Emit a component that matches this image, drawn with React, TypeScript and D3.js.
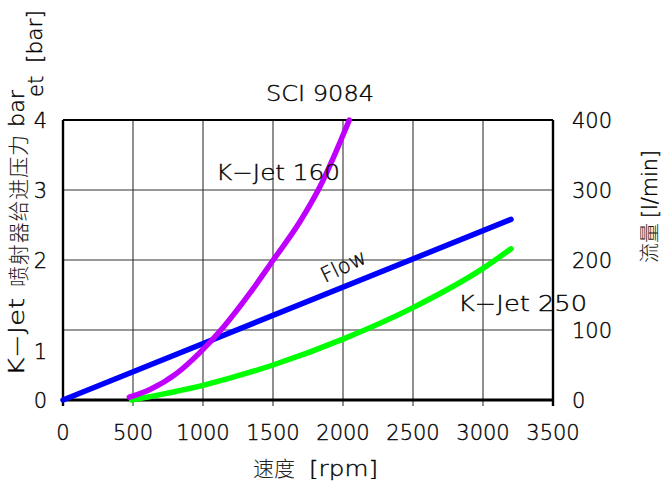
import React from "react";
import * as d3 from "d3";

const rpmTicks = [0, 500, 1000, 1500, 2000, 2500, 3000, 3500];
const pressureTickValues = [0, 0.69, 2, 3, 4];
const pressureTickLabels = ["0", "1", "2", "3", "4"];
const pressureGrid = [1, 2, 3];
const flowTicks = [0, 100, 200, 300, 400];

const flowRpm = [0, 3200];
const flowValues = [0, 258];

const kjet160Rpm = [474, 621, 812, 979, 1145, 1336, 1502, 1693, 1836, 2045];
const kjet160Values = [0.04, 0.15, 0.38, 0.68, 1.04, 1.53, 2.0, 2.55, 3.05, 4.0];

const kjet250Rpm = [490, 1000, 1500, 2000, 2500, 3000, 3200];
const kjet250Values = [0, 0.21, 0.5, 0.87, 1.32, 1.88, 2.16];

const W = 662;
const H = 486;
const L = 63, R = 553, T = 120, B = 400;

const FONT = "'DejaVu Sans', sans-serif";
const CJK = "'Noto Sans CJK SC', sans-serif";

export default function App() {
  const x = d3.scaleLinear().domain([0, 3500]).range([L, R]);
  const yP = d3.scaleLinear().domain([0, 4]).range([B, T]);
  const yF = d3.scaleLinear().domain([0, 400]).range([B, T]);

  const lineP = d3
    .line<[number, number]>()
    .x((d) => x(d[0]))
    .y((d) => yP(d[1]))
    .curve(d3.curveMonotoneX);
  const lineF = d3
    .line<[number, number]>()
    .x((d) => x(d[0]))
    .y((d) => yF(d[1]));

  const flowPts = flowRpm.map((r, i) => [r, flowValues[i]] as [number, number]);
  const k160Pts = kjet160Rpm.map((r, i) => [r, kjet160Values[i]] as [number, number]);
  const k250Pts = kjet250Rpm.map((r, i) => [r, kjet250Values[i]] as [number, number]);

  const txt = {
    fontFamily: FONT,
    fontSize: 21,
    fontWeight: 200,
    fill: "#000",
    stroke: "#000",
    strokeWidth: 0.35,
  } as const;
  const cjk = { fontFamily: CJK, fontSize: 21, fontWeight: 300, fill: "#222" } as const;
  const SG = "spacingAndGlyphs";

  return (
    <svg
      width={W}
      height={H}
      style={{ position: "absolute", left: 0, top: 0, background: "#fff" }}
    >
      <rect x={0} y={0} width={W} height={H} fill="#fff" />
      {/* grid */}
      {rpmTicks.slice(1, -1).map((t) => (
        <line key={"gx" + t} x1={x(t)} x2={x(t)} y1={T} y2={B + 6} stroke="#333" strokeWidth={1.1} />
      ))}
      {pressureGrid.map((t) => (
        <line key={"gy" + t} x1={L} x2={R} y1={yP(t)} y2={yP(t)} stroke="#333" strokeWidth={1.1} />
      ))}
      {/* frame */}
      <line x1={L} x2={R} y1={T} y2={T} stroke="#000" strokeWidth={2.2} />
      <line x1={L} x2={L} y1={T} y2={B + 6} stroke="#000" strokeWidth={2.4} />
      <line x1={R} x2={R} y1={T} y2={B + 6} stroke="#000" strokeWidth={2.4} />
      <line x1={L} x2={R} y1={B} y2={B} stroke="#000" strokeWidth={3} />

      {/* curves */}
      <path d={lineF(flowPts) || ""} fill="none" stroke="#0000ff" strokeWidth={5.5} strokeLinecap="round" />
      <path d={lineP(k250Pts) || ""} fill="none" stroke="#00ff00" strokeWidth={5.5} strokeLinecap="round" />
      <path d={lineP(k160Pts) || ""} fill="none" stroke="#c000ff" strokeWidth={5.5} strokeLinecap="round" />

      {/* x tick labels */}
      {rpmTicks.map((t) => (
        <text key={"xl" + t} x={x(t)} y={440} textAnchor="middle" {...txt}>
          {t}
        </text>
      ))}
      {/* left tick labels */}
      {pressureTickValues.map((v, i) => (
        <text key={"pl" + i} x={47} y={yP(v) + 7.5} textAnchor="end" {...txt}>
          {pressureTickLabels[i]}
        </text>
      ))}
      {/* right tick labels */}
      {flowTicks.map((v) => (
        <text key={"fl" + v} x={572} y={yF(v) + 7.5} textAnchor="start" {...txt}>
          {v}
        </text>
      ))}

      {/* title */}
      <text x={266} y={100.5} {...txt} textLength={108} lengthAdjust={SG}>
        SCI  9084
      </text>
      {/* series labels */}
      <text x={216} y={180} {...txt} textLength={124} lengthAdjust={SG}>
        K−Jet  160
      </text>
      <text x={458} y={310.5} {...txt} textLength={129} lengthAdjust={SG}>
        K−Jet  250
      </text>
      <text transform="translate(325,283) rotate(-26)" {...txt}>
        Flow
      </text>

      {/* x axis title */}
      <text x={253} y={476} style={cjk}>
        速度
      </text>
      <text x={309} y={476} {...txt} textLength={69} lengthAdjust={SG}>
        [rpm]
      </text>

      {/* left axis title */}
      <text transform="translate(24,376) rotate(-90)" {...txt} textLength={78} lengthAdjust={SG}>
        K−Jet
      </text>
      <text
        transform="translate(26,287) rotate(-90)"
        style={cjk}
        textLength={152}
        lengthAdjust="spacing"
      >
        喷射器给进压力
      </text>
      <text transform="translate(24,127) rotate(-90)" {...txt} textLength={37} lengthAdjust={SG}>
        bar
      </text>
      <text transform="translate(43,97) rotate(-90)" {...txt}>
        et
      </text>
      <text transform="translate(42,63) rotate(-90)" {...txt} textLength={53} lengthAdjust={SG}>
        [bar]
      </text>

      {/* right axis title */}
      <text transform="translate(657,263) rotate(-90)" style={{ ...cjk, fontSize: 20 }}>
        流量
      </text>
      <text transform="translate(657,218) rotate(-90)" {...txt} textLength={68} lengthAdjust={SG}>
        [l/min]
      </text>
    </svg>
  );
}
